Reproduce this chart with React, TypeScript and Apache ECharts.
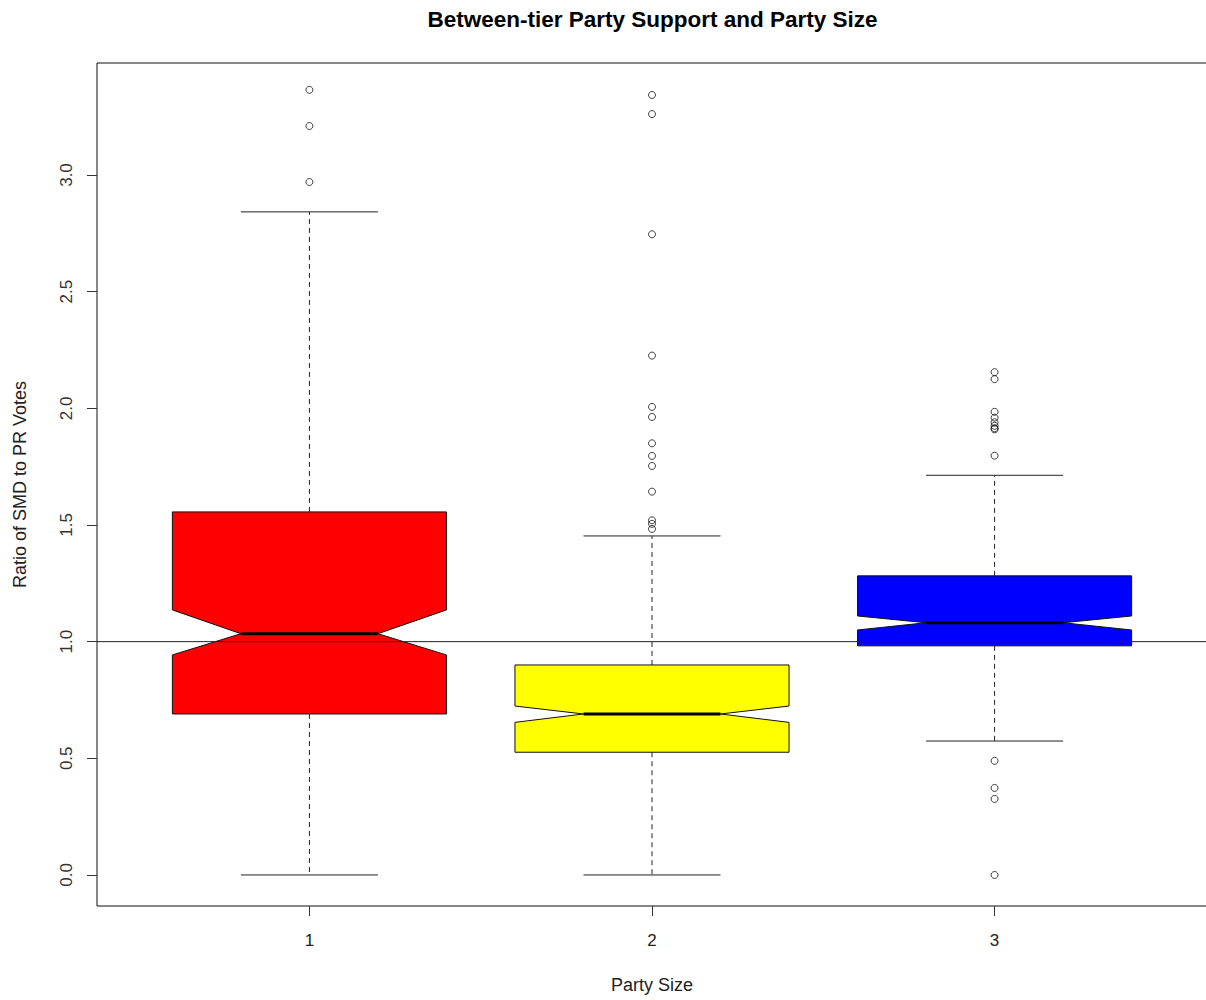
import React, { useEffect, useRef } from "react";
import * as echarts from "echarts";

// Party size groups on the x axis
const categories = [1, 2, 3];

// Five-number summaries and notch limits per group
const lowerWhisker = [0.0, 0.0, 0.574];
const lowerQuartile = [0.69, 0.526, 0.982];
const notchLow = [0.943, 0.654, 1.05];
const medians = [1.034, 0.69, 1.081];
const notchHigh = [1.136, 0.724, 1.11];
const upperQuartile = [1.556, 0.9, 1.282];
const upperWhisker = [2.842, 1.453, 1.713];

// Points beyond the whiskers
const outliersSize1 = [3.365, 3.21, 2.97];
const outliersSize2 = [
  3.343, 3.261, 2.746, 2.226, 2.006, 1.963, 1.85, 1.796, 1.753, 1.643, 1.52,
  1.505, 1.483,
];
const outliersSize3 = [
  2.155, 2.125, 1.985, 1.96, 1.94, 1.925, 1.915, 1.91, 1.797, 0.489, 0.373,
  0.326, 0.0,
];

const yTicks = [0, 0.5, 1, 1.5, 2, 2.5, 3];
const boxColors = ["#FF0000", "#FFFF00", "#0000FF"];

const REFERENCE_RATIO = 1;
const FONT = "'Liberation Sans', Arial, sans-serif";

export default function App() {
  const ref = useRef<HTMLDivElement>(null);

  useEffect(() => {
    if (!ref.current) return;
    const chart = echarts.init(ref.current, null, { renderer: "svg" });

    const boxData = categories.map((c, i) => [
      c,
      lowerWhisker[i],
      lowerQuartile[i],
      notchLow[i],
      medians[i],
      notchHigh[i],
      upperQuartile[i],
      upperWhisker[i],
    ]);

    const outlierData: number[][] = [];
    [outliersSize1, outliersSize2, outliersSize3].forEach((list, i) =>
      list.forEach((v) => outlierData.push([categories[i], v]))
    );

    const halfBox = 0.4;
    const halfNotch = 0.2;
    const halfStaple = 0.2;

    const renderBox = (params: any, api: any) => {
      const x = api.value(0);
      const lw = api.value(1);
      const q1 = api.value(2);
      const nlo = api.value(3);
      const med = api.value(4);
      const nhi = api.value(5);
      const q3 = api.value(6);
      const uw = api.value(7);
      const p = (a: number, b: number) => api.coord([a, b]);
      const lineStyle = { stroke: "#222", lineWidth: 1 };
      const dashStyle = { stroke: "#222", lineWidth: 1, lineDash: [5, 4] };

      const ptsLine = (a: number[], b: number[]) => ({
        x1: a[0],
        y1: a[1],
        x2: b[0],
        y2: b[1],
      });

      return {
        type: "group",
        children: [
          {
            type: "line",
            shape: ptsLine(p(x, q3), p(x, uw)),
            style: dashStyle,
          },
          {
            type: "line",
            shape: ptsLine(p(x, q1), p(x, lw)),
            style: dashStyle,
          },
          {
            type: "line",
            shape: ptsLine(p(x - halfStaple, uw), p(x + halfStaple, uw)),
            style: lineStyle,
          },
          {
            type: "line",
            shape: ptsLine(p(x - halfStaple, lw), p(x + halfStaple, lw)),
            style: lineStyle,
          },
          {
            type: "polygon",
            shape: {
              points: [
                p(x - halfBox, q1),
                p(x - halfBox, nlo),
                p(x - halfNotch, med),
                p(x - halfBox, nhi),
                p(x - halfBox, q3),
                p(x + halfBox, q3),
                p(x + halfBox, nhi),
                p(x + halfNotch, med),
                p(x + halfBox, nlo),
                p(x + halfBox, q1),
              ],
            },
            style: {
              fill: boxColors[params.dataIndex],
              stroke: "#111",
              lineWidth: 1,
            },
          },
          {
            type: "line",
            shape: ptsLine(p(x - halfNotch, med), p(x + halfNotch, med)),
            style: { stroke: "#000", lineWidth: 3 },
          },
        ],
      };
    };

    chart.setOption({
      animation: false,
      backgroundColor: "#ffffff",
      title: {
        text: "Between-tier Party Support and Party Size",
        left: "center",
        top: 3,
        textStyle: {
          fontFamily: FONT,
          fontSize: 22.5,
          fontWeight: "bold",
          color: "#000",
        },
      },
      grid: {
        left: 97,
        right: 98,
        top: 63,
        bottom: 94,
        show: true,
        borderColor: "#111",
        borderWidth: 1,
        backgroundColor: "transparent",
      },
      xAxis: {
        type: "value",
        min: 0.38,
        max: 3.62,
        name: "Party Size",
        nameLocation: "middle",
        nameGap: 70,
        nameTextStyle: { fontFamily: FONT, fontSize: 18, color: "#222" },
        axisLine: { show: false, onZero: false },
        splitLine: { show: false },
        axisTick: {
          show: true,
          length: 10,
          customValues: categories,
          lineStyle: { color: "#333" },
        },
        axisLabel: {
          customValues: categories,
          margin: 26,
          fontFamily: FONT,
          fontSize: 17,
          color: "#222",
          formatter: (v: number) => String(v),
        },
      },
      yAxis: {
        type: "value",
        min: -0.133,
        max: 3.48,
        name: "Ratio of SMD to PR Votes",
        nameLocation: "middle",
        nameRotate: 90,
        nameGap: 68,
        nameTextStyle: { fontFamily: FONT, fontSize: 18, color: "#222" },
        axisLine: { show: false, onZero: false },
        splitLine: { show: false },
        axisTick: {
          show: true,
          length: 10,
          customValues: yTicks,
          lineStyle: { color: "#333" },
        },
        axisLabel: {
          customValues: yTicks,
          rotate: 90,
          margin: 22,
          fontFamily: FONT,
          fontSize: 17,
          color: "#333",
          formatter: (v: number) => v.toFixed(1),
        },
      },
      series: [
        {
          type: "custom",
          renderItem: renderBox,
          data: boxData,
          encode: { x: 0, y: [1, 2, 3, 4, 5, 6, 7] },
          z: 2,
          silent: true,
        },
        {
          type: "line",
          data: [
            [0.38, REFERENCE_RATIO],
            [3.62, REFERENCE_RATIO],
          ],
          symbol: "none",
          lineStyle: { color: "#222", width: 1 },
          z: 4,
          silent: true,
        },
        {
          type: "scatter",
          data: outlierData,
          symbol: "circle",
          symbolSize: 7,
          itemStyle: {
            color: "rgba(255,255,255,0)",
            borderColor: "#111",
            borderWidth: 1,
          },
          z: 5,
          silent: true,
        },
      ],
    });

    return () => chart.dispose();
  }, []);

  return (
    <div
      style={{
        position: "absolute",
        left: 0,
        top: 0,
        width: 1206,
        height: 1000,
        overflow: "hidden",
        background: "#fff",
      }}
    >
      <div ref={ref} style={{ width: 1305, height: 1000 }} />
    </div>
  );
}
